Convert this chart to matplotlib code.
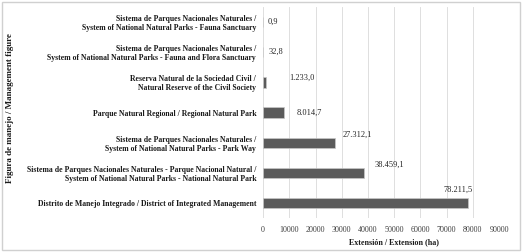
import matplotlib
matplotlib.use("Agg")
import matplotlib.pyplot as plt
from matplotlib.patches import Rectangle

# Data (bottom to top, as drawn)
categories = [
    "Distrito de Manejo Integrado / District of Integrated Management",
    "Sistema de Parques Nacionales Naturales - Parque Nacional Natural /\nSystem of National Natural Parks - National Natural Park",
    "Sistema de Parques Nacionales Naturales /\nSystem of National Natural Parks - Park Way",
    "Parque Natural Regional / Regional Natural Park",
    "Reserva Natural de la Sociedad Civil /\nNatural Reserve of the Civil Society",
    "Sistema de Parques Nacionales Naturales /\nSystem of National Natural Parks - Fauna and Flora Sanctuary",
    "Sistema de Parques Nacionales Naturales /\nSystem of National Natural Parks - Fauna Sanctuary",
]
extension_ha = [78211.5, 38459.1, 27312.1, 8014.7, 1233.0, 32.8, 0.9]
x_ticks = [0, 10000, 20000, 30000, 40000, 50000, 60000, 70000, 80000, 90000]

# label offsets in pixels from the bar end (Excel placed them a bit loosely)
label_offsets = [(-25, 13), (11, 8), (8, 8), (13, 0), (23, 5), (5, 0), (5, 0)]

SERIF = "Liberation Serif"


def es_format(v):
    # 78211.5 -> "78.211,5"
    s = f"{v:,.1f}"
    return s.replace(",", "_").replace(".", ",").replace("_", ".")


fig = plt.figure(figsize=(5.22, 2.52), dpi=100)
ax = fig.add_axes([0.504, 0.135, 0.452, 0.837])

pos = list(range(len(categories)))
ax.barh(pos, extension_ha, height=0.34, color="#5b5b5b",
        edgecolor="#c8c8c8", linewidth=0.5, zorder=3)

for p, v, (dx, dy) in zip(pos, extension_ha, label_offsets):
    ax.annotate(es_format(v), xy=(v, p), xytext=(dx, dy),
                textcoords="offset pixels", ha="left", va="center",
                fontsize=6, family=SERIF, color="#262626")

ax.set_xlim(0, 90000)
ax.set_ylim(-0.5, len(categories) - 0.5)
ax.set_xticks(x_ticks)
ax.set_xticklabels([str(t) for t in x_ticks], family=SERIF, fontsize=5.8,
                   color="#404040")
ax.set_yticks(pos)
ax.set_yticklabels(categories, family=SERIF, fontsize=5.6, fontweight="bold",
                   color="#1a1a1a", linespacing=1.15)
ax.tick_params(axis="both", length=0)
ax.tick_params(axis="y", pad=5)
ax.tick_params(axis="x", pad=6)
ax.grid(axis="x", color="#d9d9d9", linewidth=0.6, zorder=0)
for s in ax.spines.values():
    s.set_visible(False)

fig.text(0.755, 0.04, "Extensión / Extension (ha)", ha="center", va="center",
         family=SERIF, fontsize=5.8, fontweight="bold", color="#1a1a1a")
fig.text(0.02, 0.571, "Figura de manejo / Management figure", rotation=90,
         ha="center", va="center", family=SERIF, fontsize=6.5,
         fontweight="bold", color="#1a1a1a")

# light frame round the whole chart
fig.patches.append(Rectangle((0.004, 0.006), 0.992, 0.988,
                             transform=fig.transFigure, fill=False,
                             edgecolor="#d0d0d0", linewidth=1.0))

fig.savefig("out.png", dpi=100)
